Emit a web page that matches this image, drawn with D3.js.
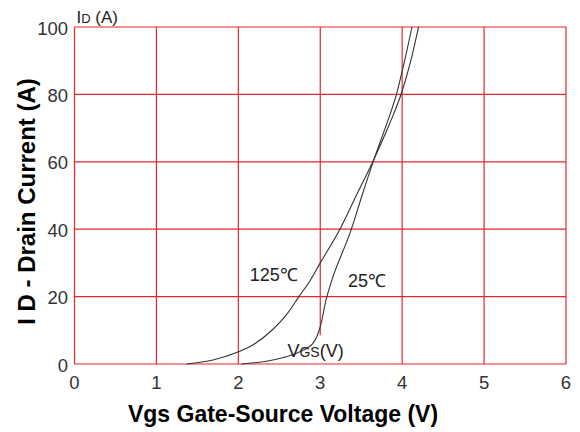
<!DOCTYPE html>
<html>
<head>
<meta charset="utf-8">
<script src="https://cdn.jsdelivr.net/npm/d3@7"></script>
<style>
  body { margin: 0; background: #fff; }
  text { font-family: "Liberation Sans", Arial, sans-serif; }
</style>
</head>
<body>
<svg class="chart"></svg>
<script>
'use strict';

// data
var xTicks = [0, 1, 2, 3, 4, 5, 6];
var yTicks = [0, 20, 40, 60, 80, 100];

var vgs125 = [1.37, 1.69, 2.0, 2.2, 2.4, 2.6, 2.74, 2.87, 3.0, 3.24, 3.44, 3.66, 3.85, 4.0, 4.1, 4.2];
var id125  = [0, 1.2, 3.6, 6, 9.8, 15, 20, 24.5, 30, 40, 50, 61, 71.5, 81, 89.5, 100];

var vgs25 = [2.04, 2.42, 2.71, 2.91, 3.01, 3.07, 3.13, 3.38, 3.51, 3.66, 3.8, 3.93, 4.03, 4.12];
var id25  = [0, 1.2, 3.2, 6.1, 12, 19, 24, 40, 50, 61, 70.5, 80, 90, 100];

var width = 580, height = 432;
var margin = {top: 27, bottom: 68, right: 14, left: 74.5};
var w = width - margin.left - margin.right,
    h = height - margin.top - margin.bottom;

var svg = d3.select('.chart')
    .attr('width', width)
    .attr('height', height);

var chart = svg.append('g')
    .attr('transform', 'translate(' + margin.left + ',' + margin.top + ')');

var x = d3.scaleLinear().domain([0, 6]).range([0, w]);
var y = d3.scaleLinear().domain([0, 100]).range([h, 0]);

var red = '#e8262b';

// horizontal grid
chart.selectAll('.hgrid').data(yTicks).enter()
    .append('line')
    .attr('class', 'hgrid')
    .attr('x1', 0).attr('x2', w)
    .attr('y1', function(d) { return y(d); })
    .attr('y2', function(d) { return y(d); })
    .attr('stroke', red).attr('stroke-width', 1.2);

// vertical grid (the 3V line stops short above the VGS label)
chart.selectAll('.vgrid').data(xTicks).enter()
    .append('line')
    .attr('class', 'vgrid')
    .attr('x1', function(d) { return x(d); })
    .attr('x2', function(d) { return x(d); })
    .attr('y1', 0)
    .attr('y2', function(d) { return d === 3 ? y(8.5) : h; })
    .attr('stroke', red).attr('stroke-width', 1.2);

// tick labels
chart.selectAll('.ylab').data(yTicks).enter()
    .append('text')
    .attr('x', -6.5)
    .attr('y', function(d) { return y(d) + 7.5; })
    .attr('text-anchor', 'end')
    .attr('font-size', 18.5)
    .attr('fill', '#333')
    .text(function(d) { return d; });

chart.selectAll('.xlab').data(xTicks).enter()
    .append('text')
    .attr('x', function(d) { return x(d); })
    .attr('y', h + 25)
    .attr('text-anchor', 'middle')
    .attr('font-size', 18.5)
    .attr('fill', '#333')
    .text(function(d) { return d; });

// curves
var line = d3.line()
    .x(function(d) { return x(d[0]); })
    .y(function(d) { return y(d[1]); })
    .curve(d3.curveMonotoneX);

[[vgs125, id125], [vgs25, id25]].forEach(function(s) {
    chart.append('path')
        .attr('d', line(d3.zip(s[0], s[1])))
        .attr('fill', 'none')
        .attr('stroke', '#333')
        .attr('stroke-width', 1.1);
});

// curve labels
chart.append('text')
    .attr('x', x(2.14)).attr('y', y(24.5))
    .attr('font-size', 18).attr('fill', '#222')
    .text('125℃');
chart.append('text')
    .attr('x', x(3.34)).attr('y', y(22.8))
    .attr('font-size', 18).attr('fill', '#222')
    .text('25℃');

var vgsLab = chart.append('text')
    .attr('x', x(2.6)).attr('y', y(2))
    .attr('font-size', 18).attr('fill', '#222');
vgsLab.append('tspan').text('V');
vgsLab.append('tspan').attr('font-size', 14).text('GS');
vgsLab.append('tspan').text('(V)');

var idLab = chart.append('text')
    .attr('x', 2).attr('y', -4)
    .attr('font-size', 17).attr('fill', '#222');
idLab.append('tspan').text('I');
idLab.append('tspan').attr('font-size', 13).text('D');
idLab.append('tspan').text(' (A)');

// axis titles
svg.append('text')
    .attr('x', 283).attr('y', 422)
    .attr('text-anchor', 'middle')
    .attr('font-size', 23).attr('font-weight', 'bold')
    .text('Vgs Gate-Source Voltage (V)');

svg.append('text')
    .attr('transform', 'translate(35,201.5) rotate(-90)')
    .attr('text-anchor', 'middle')
    .attr('font-size', 24).attr('font-weight', 'bold')
    .text('I D - Drain Current (A)');
</script>
</body>
</html>
